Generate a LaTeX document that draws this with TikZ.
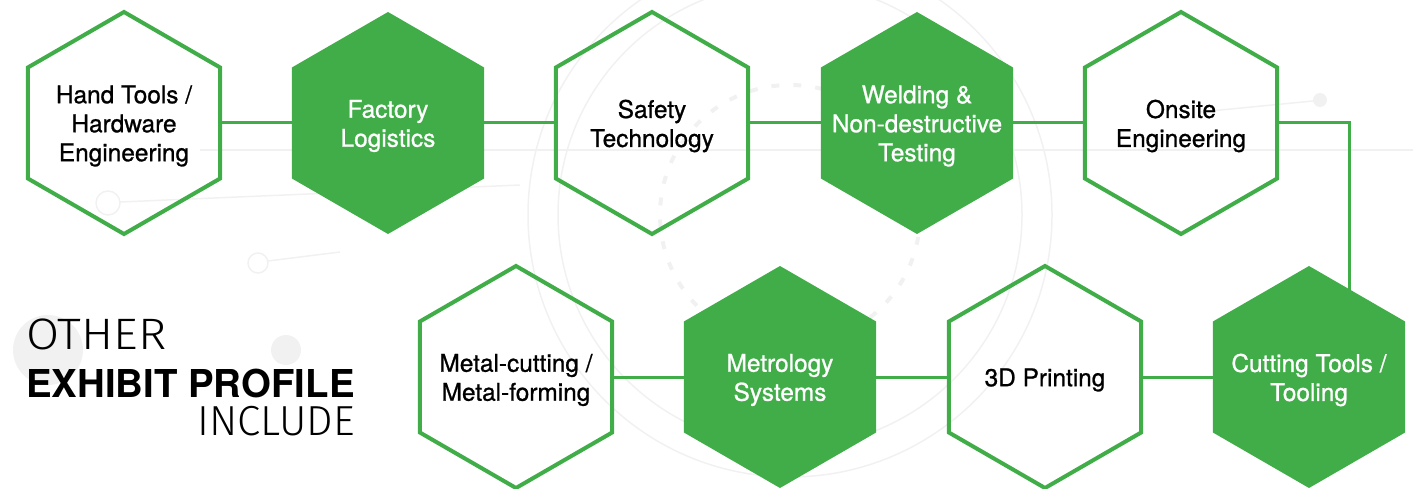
\documentclass[tikz,border=0pt]{standalone}
\usepackage{fontspec}
\setmainfont{TeX Gyre Heros}
\newfontfamily\labelfont{TeX Gyre Heros}[FakeBold=0.9]
\IfFontExistsTF{Fira Sans Light}
  {\newfontfamily\lightfont{Fira Sans Light}}
  {\newfontfamily\lightfont{TeX Gyre Heros}}
\usetikzlibrary{shapes.geometric,backgrounds}
\definecolor{hexgreen}{RGB}{65,173,73}
\definecolor{bgline}{RGB}{241,241,241}
\begin{document}
\begin{tikzpicture}[x=1pt,y=-1pt,
  hexbase/.style={regular polygon, regular polygon sides=6, shape border rotate=30,
    minimum size=222pt, inner sep=0pt, outer sep=0pt},
  hexo/.style={hexbase, draw=hexgreen, line width=4pt},
  hexf/.style={hexbase, fill=hexgreen},
  lbl/.style={align=center, inner sep=0pt, yshift=-3pt, font=\labelfont\fontsize{24.4}{29}\selectfont},
  lblo/.style={lbl, text=black},
  lblf/.style={lbl, text=white},
  link/.style={draw=hexgreen, line width=3pt},
  deco/.style={draw=bgline, line width=1.5pt},
  title/.style={inner sep=0pt, font=\lightfont\fontsize{42}{44}\selectfont}]
\useasboundingbox (0,0) rectangle (1413,489);

% hexagons, top row
\node[hexo] (h1) at (124,123) {};
\node[hexf] (h2) at (388,123) {};
\node[hexo] (h3) at (652,123) {};
\node[hexf] (h4) at (917,123) {};
\node[hexo] (h5) at (1181,123) {};
% bottom row
\node[hexo] (h6) at (516,377) {};
\node[hexf] (h7) at (780,377) {};
\node[hexo] (h9) at (1045,377) {};
\node[hexf] (h8) at (1309,377) {};

% labels
\node[lblo] (t1) at (h1) {Hand Tools /\\Hardware\\Engineering};
\node[lblf] (t2) at (h2) {Factory\\Logistics};
\node[lblo] (t3) at (h3) {Safety\\Technology};
\node[lblf] (t4) at (h4) {Welding \&\\Non-destructive\\Testing};
\node[lblo] (t5) at (h5) {Onsite\\Engineering};
\node[lblo] (t6) at (h6) {Metal-cutting /\\Metal-forming};
\node[lblf] (t7) at (h7) {Metrology\\Systems};
\node[lblo] (t9) at (h9) {3D Printing};
\node[lblf] (t8) at (h8) {Cutting Tools /\\Tooling};

% title
\node[title, anchor=base west, xscale=1.09, font=\lightfont\fontsize{44}{46}\selectfont] (o1) at (26,349) {OTHER};
\node[title, anchor=base west, font=\fontsize{38.4}{44}\selectfont\bfseries] (o2) at (26,397) {EXHIBIT PROFILE};
\node[title, anchor=base east] (o3) at (355,435) {INCLUDE};

\coordinate (turn) at (1349,123);

\begin{scope}[on background layer]
  % faint background decoration
  \fill[bgline] (48,350) circle (35);
  \fill[bgline] (286,350) circle (15);
  \fill[bgline] (1320,100) circle (7);
  \draw[deco] (108,203) circle (12);
  \draw[deco] (120,202) -- (520,185);
  \draw[deco] (258,263) circle (10);
  \draw[deco] (268,261) -- (340,252);
  \draw[deco] (1313,101) -- (1200,112);
  \draw[deco] (790,215) circle (262);
  \draw[deco] (790,215) circle (232);
  \draw[deco, line width=4pt, dash pattern=on 8pt off 14pt] (790,215) circle (130);
  \draw[deco] (200,150) -- (1413,150);
  % connectors
  \draw[link] (h1) -- (h2);
  \draw[link] (h2) -- (h3);
  \draw[link] (h3) -- (h4);
  \draw[link] (h4) -- (h5);
  \draw[link] (h5.east) -- (turn) -- (turn |- h8.center);
  \draw[link] (h8) -- (h9);
  \draw[link] (h9) -- (h7);
  \draw[link] (h7) -- (h6);
\end{scope}
\end{tikzpicture}
\end{document}
